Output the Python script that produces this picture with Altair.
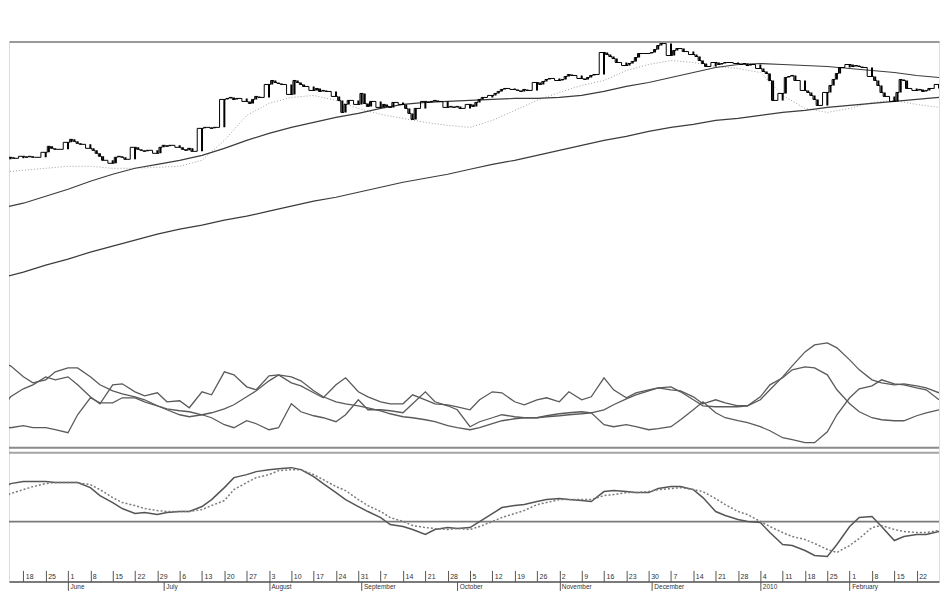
import altair as alt
import pandas as pd

# ---------------- data ----------------
WEEKS = ["2009-05-11", "2009-05-18", "2009-05-25", "2009-06-01", "2009-06-08", "2009-06-15",
         "2009-06-22", "2009-06-29", "2009-07-06", "2009-07-13", "2009-07-20", "2009-07-27",
         "2009-08-03", "2009-08-10", "2009-08-17", "2009-08-24", "2009-08-31", "2009-09-07",
         "2009-09-14", "2009-09-21", "2009-09-28", "2009-10-05", "2009-10-12", "2009-10-19",
         "2009-10-26", "2009-11-02", "2009-11-09", "2009-11-16", "2009-11-23", "2009-11-30",
         "2009-12-07", "2009-12-14", "2009-12-21", "2009-12-28", "2010-01-04", "2010-01-11",
         "2010-01-18", "2010-01-25", "2010-02-01", "2010-02-08", "2010-02-15", "2010-02-22",
         "2010-03-01"]

# daily closes, one list per week (Mon..Fri)
CLOSE = [
    [242, 241, 241, 243, 242], [244, 243, 244, 243, 243], [248, 254, 252, 251, 251],
    [258, 261, 259, 257, 256], [252, 250, 247, 244, 240], [237, 243, 244, 243, 241],
    [253, 251, 250, 249, 250], [247, 253, 255, 254, 255], [253, 251, 250, 252, 249],
    [272, 273, 273, 272, 273], [301, 302, 303, 301, 302], [299, 297, 301, 304, 303],
    [316, 320, 318, 317, 316], [306, 320, 318, 316, 314], [310, 312, 309, 310, 309],
    [304, 300, 288, 296, 300], [296, 307, 297, 294, 299], [293, 296, 294, 293, 298],
    [296, 292, 287, 281, 292], [299, 298, 299, 300, 299], [293, 294, 293, 294, 292],
    [296, 294, 298, 301, 303], [305, 307, 309, 311, 312], [311, 310, 309, 311, 310],
    [318, 316, 319, 321, 322], [320, 321, 324, 326, 325], [322, 321, 323, 325, 326],
    [348, 346, 344, 342, 338], [335, 337, 339, 343, 347], [347, 348, 351, 355, 357],
    [345, 350, 352, 352, 349], [346, 344, 340, 337, 334], [338, 336, 337, 338, 338],
    [337, 336, 337, 335, 336], [332, 329, 327, 320, 300], [307, 323, 324, 325, 320],
    [310, 308, 305, 301, 295], [308, 315, 321, 327, 333], [336, 334, 335, 334, 333],
    [324, 320, 315, 308, 304], [299, 308, 321, 320, 312], [310, 311, 309, 310, 312],
    [316, 319],
]

# weekly moving averages (values on each Monday)
MID_MA = [192, 197, 204, 211, 219, 226, 232, 236, 240, 245, 252, 260, 267, 273, 278, 283,
          287, 292, 296, 298, 299, 300, 301, 302, 302, 303, 305, 309, 314, 318, 323, 328,
          333, 336, 337, 336, 335, 334, 332, 330, 328, 325, 323]
LONG_MA = [122, 128, 135, 141, 148, 154, 160, 166, 171, 175, 180, 184, 189, 194, 199, 203,
           208, 213, 218, 222, 226, 231, 236, 240, 245, 250, 255, 260, 264, 269, 273, 276,
           280, 282, 285, 288, 290, 293, 295, 297, 299, 301, 303]
LOWER_BAND = [228, 230, 232, 234, 234, 232, 232, 233, 234, 240, 260, 285, 297, 303, 305, 300,
              292, 286, 282, 278, 275, 273, 280, 290, 300, 308, 315, 320, 330, 336, 340, 338,
              334, 332, 328, 305, 292, 288, 292, 298, 300, 296, 293]

# indicators sampled on Mondays and Thursdays
ADX = [85, 82, 71, 65, 68, 76, 80, 80, 71, 63, 57, 54, 51, 48, 42, 38, 33, 31, 33, 35,
       39, 43, 51, 57, 67, 73, 71, 67, 57, 51, 46, 44, 42, 40, 37, 34, 31, 30, 28, 26,
       22, 20, 18, 20, 24, 27, 29, 30, 30, 31, 32, 33, 34, 35, 38, 43, 49, 53, 57, 60,
       61, 56, 48, 42, 41, 41, 41, 42, 48, 58, 71, 82, 96, 103, 105, 100, 88, 78, 68, 65,
       63, 64, 62, 60, 55]
PLUS_DI = [38, 51, 59, 63, 71, 68, 71, 63, 51, 44, 63, 64, 56, 52, 55, 46, 47, 40, 56, 53,
           76, 73, 61, 58, 72, 73, 65, 62, 55, 50, 63, 70, 56, 51, 46, 44, 44, 53, 48, 44,
           43, 41, 38, 48, 56, 55, 46, 43, 48, 50, 46, 56, 48, 51, 70, 58, 50, 55, 58, 60,
           58, 57, 51, 44, 48, 45, 42, 42, 51, 63, 70, 78, 81, 80, 73, 58, 44, 36, 30, 28,
           27, 27, 32, 35, 38]
MINUS_DI = [21, 20, 22, 20, 20, 18, 15, 33, 50, 45, 45, 50, 50, 46, 42, 39, 37, 36, 33, 30,
            23, 20, 27, 24, 18, 20, 44, 36, 32, 30, 26, 33, 48, 38, 38, 37, 35, 44, 56, 46,
            42, 38, 21, 26, 30, 33, 31, 30, 30, 32, 34, 35, 36, 35, 23, 21, 23, 21, 18, 19,
            21, 28, 38, 46, 35, 30, 27, 25, 21, 17, 10, 8, 5, 5, 16, 33, 50, 59, 62, 68,
            64, 63, 60, 58, 48]
MACD = [32, 38, 40, 40, 40, 39, 39, 39, 34, 26, 19, 13, 8, 9, 7, 9, 10, 10, 15, 22,
        34, 44, 47, 50, 52, 53, 54, 52, 45, 38, 29, 22, 15, 10, 4, -3, -5, -8, -13, -8,
        -6, -7, -6, 0, 8, 14, 16, 17, 20, 22, 23, 22, 21, 20, 30, 31, 30, 29, 29, 33,
        35, 35, 32, 24, 10, 6, 2, 0, -1, -11, -23, -24, -29, -34, -35, -23, -5, 4, 5, -5,
        -19, -15, -13, -13, -10]
SIGNAL = [24, 28, 32, 35, 38, 39, 39, 39, 37, 32, 24, 19, 16, 13, 11, 10, 10, 10, 12, 16,
          21, 32, 39, 44, 47, 51, 52, 52, 47, 42, 35, 31, 22, 16, 10, 4, 0, -4, -6, -7,
          -8, -7, -8, -5, 0, 4, 8, 11, 17, 19, 22, 22, 22, 22, 26, 27, 29, 29, 30, 32,
          33, 34, 32, 30, 23, 17, 10, 7, 0, -5, -11, -15, -18, -22, -28, -31, -24, -17, -6, -4,
          -8, -10, -11, -11, -9]

MONTH_STARTS = ["2009-06-01", "2009-07-01", "2009-08-03", "2009-09-01", "2009-10-01",
                "2009-11-02", "2009-12-01", "2010-01-04", "2010-02-01"]
DAY_TICKS = WEEKS[1:-1]

# ---------------- tables ----------------
weeks = pd.to_datetime(WEEKS)
rows = []
for w, vals in zip(weeks, CLOSE):
    for i, v in enumerate(vals):
        rows.append((w + pd.Timedelta(days=i), v))
price = pd.DataFrame(rows, columns=["date", "close"])
price["open"] = price["close"].shift(1).fillna(price["close"])

ma = pd.DataFrame({"date": weeks, "mid": MID_MA, "long": LONG_MA, "band": LOWER_BAND})

sdates = []
for w in weeks[:-1]:
    sdates += [w, w + pd.Timedelta(days=3)]
sdates.append(weeks[-1])
ind = pd.DataFrame({"date": sdates, "adx": ADX, "pdi": PLUS_DI, "mdi": MINUS_DI,
                    "macd": MACD, "signal": SIGNAL})


def dt(s):
    y, m, d = (int(p) for p in s.split("-"))
    return alt.DateTime(year=y, month=m, date=d)


xs = alt.Scale(domain=[alt.DateTime(year=2009, month=5, date=13, hours=12),
                       alt.DateTime(year=2010, month=3, date=1)])
X = alt.X("date:T", scale=xs, axis=None)

PS = alt.Scale(domain=[-182, 359], zero=False, nice=False)   # price
DS = alt.Scale(domain=[-134, 407], zero=False, nice=False)   # DMI
MS = alt.Scale(domain=[-60, 481], zero=False, nice=False)    # MACD

FONT = "Liberation Sans"

top_axis = alt.Axis(orient="top", labels=False, ticks=False, grid=False, title=None,
                    domainColor="#9a9a9a", domainWidth=2)
month_axis = alt.Axis(orient="bottom", values=[dt(s) for s in MONTH_STARTS],
                      labelExpr="month(datum.value) == 0 ? timeFormat(datum.value, '%Y') : timeFormat(datum.value, '%B')",
                      labelAlign="left", labelOffset=2, labelPadding=-7, labelBaseline="top",
                      labelFontSize=6.5, labelFont=FONT, labelColor="#333", tickSize=9,
                      tickColor="#555", domainColor="#555", domainWidth=1.5, grid=False,
                      title=None)
day_axis = alt.Axis(orient="top", offset=-541, values=[dt(s) for s in DAY_TICKS],
                    labelExpr="'' + date(datum.value)", labelAlign="left", labelOffset=2,
                    labelPadding=-9, labelFontSize=7, labelFont=FONT, labelColor="#333",
                    tickSize=11, tickColor="#555", domain=False, grid=False, title=None,
                    labelOverlap=False)

band = alt.Chart(ma).mark_line(color="#a0a0a0", strokeDash=[1, 2], strokeWidth=1, clip=True).encode(
    x=X, y=alt.Y("band:Q", scale=PS, axis=None))
long_ma = alt.Chart(ma).mark_line(color="#3c3c3c", strokeWidth=1.2, clip=True).encode(
    x=X, y=alt.Y("long:Q", scale=PS, axis=None))
mid_ma = alt.Chart(ma).mark_line(color="#3c3c3c", strokeWidth=1.2, clip=True).encode(
    x=X, y=alt.Y("mid:Q", scale=PS, axis=None))
bodies = alt.Chart(price).mark_rule(color="black", strokeWidth=2, clip=True).encode(
    x=X, y=alt.Y("open:Q", scale=PS, axis=None), y2="close:Q")
steps = alt.Chart(price).mark_line(interpolate="step", color="black", strokeWidth=1, clip=True).encode(
    x=alt.X("date:T", scale=xs, axis=top_axis), y=alt.Y("close:Q", scale=PS, axis=None))

dmi_layers = [
    alt.Chart(ind).mark_line(color="#5a5a5a", strokeWidth=1.3, clip=True).encode(
        x=X, y=alt.Y(f"{c}:Q", scale=DS, axis=None))
    for c in ["adx", "pdi", "mdi"]
]

dmi_base = alt.Chart(pd.DataFrame({"v": [0]})).mark_rule(color="#8a8a8a", strokeWidth=2).encode(
    y=alt.Y("v:Q", scale=DS, axis=None))
macd_top = alt.Chart(pd.DataFrame({"v": [69]})).mark_rule(color="#a5a5a5", strokeWidth=2).encode(
    y=alt.Y("v:Q", scale=MS, axis=None))
macd_zero = alt.Chart(pd.DataFrame({"v": [0]})).mark_rule(color="#7a7a7a", strokeWidth=1.8).encode(
    y=alt.Y("v:Q", scale=MS, axis=None))

macd_line = alt.Chart(ind).mark_line(color="#555555", strokeWidth=1.5, clip=True).encode(
    x=alt.X("date:T", scale=xs, axis=month_axis), y=alt.Y("macd:Q", scale=MS, axis=None))
signal_line = alt.Chart(ind).mark_line(color="#7a7a7a", strokeWidth=1.5, strokeDash=[2, 2], clip=True).encode(
    x=alt.X("date:T", scale=xs, axis=day_axis), y=alt.Y("signal:Q", scale=MS, axis=None))

chart = alt.layer(
    band, long_ma, mid_ma, bodies, steps, *dmi_layers, dmi_base, macd_top, macd_zero,
    macd_line, signal_line
).resolve_scale(y="independent").resolve_axis(x="independent", y="independent").properties(
    width=932, height=541, padding={"top": 33, "left": 0, "right": 0, "bottom": 0}
).configure_view(stroke=None).configure(background="white")

chart.save("out.html", embed_options={"renderer": "svg", "actions": False})
